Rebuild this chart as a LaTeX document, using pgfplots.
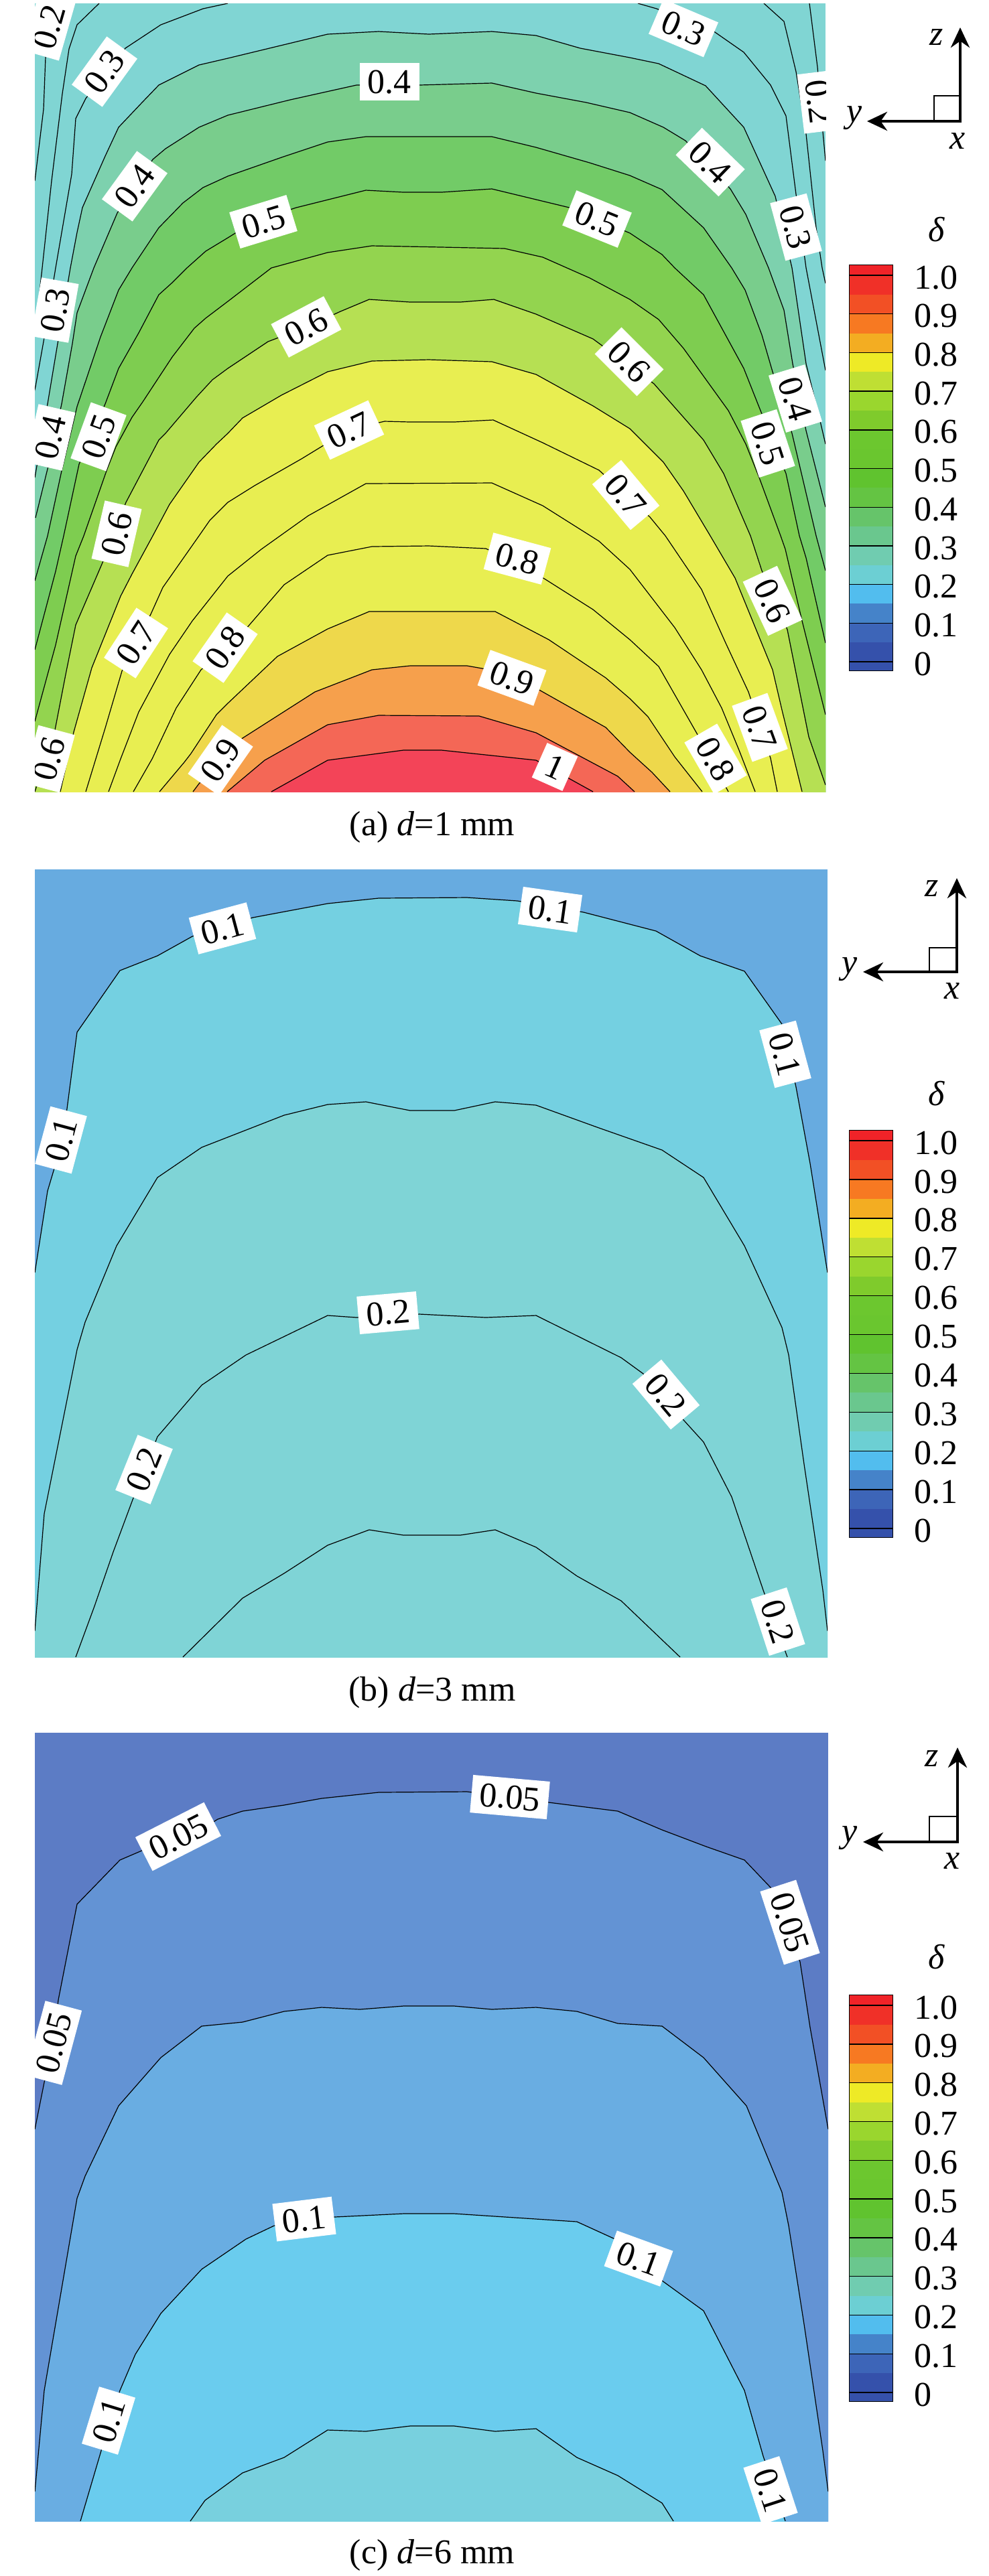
\documentclass[border=0pt]{standalone}
\usepackage{fontspec}
\setmainfont{Liberation Serif}
\usepackage{pgfplots}
\pgfplotsset{compat=1.18}
\usetikzlibrary{arrows.meta}
\definecolor{aa}{HTML}{80D5D3}\definecolor{ab}{HTML}{7DD1AE}\definecolor{ac}{HTML}{79CD8C}
\definecolor{ad}{HTML}{72CB67}\definecolor{ae}{HTML}{7ECD50}\definecolor{af}{HTML}{93D44F}
\definecolor{ag}{HTML}{B6E053}\definecolor{ah}{HTML}{E8EE51}\definecolor{ai}{HTML}{EED84B}
\definecolor{aj}{HTML}{F6A04C}\definecolor{ak}{HTML}{F46756}\definecolor{al}{HTML}{F34458}
\definecolor{ba}{HTML}{67ABE0}\definecolor{bb}{HTML}{74D0E1}\definecolor{bc}{HTML}{7FD4D6}
\definecolor{ca}{HTML}{5C7CC5}\definecolor{cb}{HTML}{6393D4}\definecolor{cc}{HTML}{69ADE2}
\definecolor{cd}{HTML}{6ACCEE}\definecolor{ce}{HTML}{78D0DE}
\newcommand\cl[1]{\addplot[black,line width=0.3pt] coordinates {#1};}
\newcommand\ctr[2]{\addplot[fill=#1,draw=none] coordinates {(0,6000) #2 (2000,6000)} -- cycle; \cl{#2}}
\newcommand\lab[4]{\node[fill=white,inner xsep=3pt,inner ysep=2.7pt,text height=8.7pt,text depth=0pt,rotate=#3,font=\fontsize{13}{14}\selectfont] at (axis cs:#1,#2) {#4};}
\pgfplotsset{panel/.style={hide axis,scale only axis,y dir=reverse},
 cbar/.style={scale only axis,width=16pt,xmin=0,xmax=1,ymin=-0.0225,ymax=1.026,
  axis line style={black,line width=0.6pt},xtick=\empty,
  ytick={0,0.1,0.2,0.3,0.4,0.5,0.6,0.7,0.8,0.9,1},
  yticklabels={0,0.1,0.2,0.3,0.4,0.5,0.6,0.7,0.8,0.9,1.0},
  yticklabel pos=right,major tick length=0pt,
  yticklabel style={font=\fontsize{13}{14}\selectfont,anchor=west,xshift=4.5pt,yshift=-0.8pt}}}
\newcommand\bnd[3]{\addplot[fill=#1,draw=none] coordinates {(0,#2)(1,#2)(1,#3)(0,#3)} -- cycle;}
\newcommand\bands{%
\definecolor{t}{HTML}{F02328}\bnd{t}{1.026}{1}
\definecolor{t1}{HTML}{F03028}\bnd{t1}{1}{0.95}
\definecolor{t2}{HTML}{F25025}\bnd{t2}{0.95}{0.9}
\definecolor{t3}{HTML}{F77922}\bnd{t3}{0.9}{0.85}
\definecolor{t4}{HTML}{F3AD22}\bnd{t4}{0.85}{0.8}
\definecolor{t5}{HTML}{EEEA26}\bnd{t5}{0.8}{0.75}
\definecolor{t6}{HTML}{BFDF33}\bnd{t6}{0.75}{0.7}
\definecolor{t7}{HTML}{9AD62E}\bnd{t7}{0.7}{0.65}
\definecolor{t8}{HTML}{7FCB2C}\bnd{t8}{0.65}{0.6}
\definecolor{t9}{HTML}{6CC72F}\bnd{t9}{0.6}{0.55}
\definecolor{u0}{HTML}{6AC62F}\bnd{u0}{0.55}{0.5}
\definecolor{u1}{HTML}{60C32F}\bnd{u1}{0.5}{0.45}
\definecolor{u2}{HTML}{64C443}\bnd{u2}{0.45}{0.4}
\definecolor{u3}{HTML}{66C46A}\bnd{u3}{0.4}{0.35}
\definecolor{u4}{HTML}{6AC78E}\bnd{u4}{0.35}{0.3}
\definecolor{u5}{HTML}{70CCB0}\bnd{u5}{0.3}{0.25}
\definecolor{u6}{HTML}{6CCFD3}\bnd{u6}{0.25}{0.2}
\definecolor{u7}{HTML}{52BDEE}\bnd{u7}{0.2}{0.15}
\definecolor{u8}{HTML}{4583C9}\bnd{u8}{0.15}{0.1}
\definecolor{u9}{HTML}{3D65B8}\bnd{u9}{0.1}{0.05}
\definecolor{v0}{HTML}{3551AB}\bnd{v0}{0.05}{-0.0225}
\addplot[black,line width=0.35pt] coordinates {(0,1)(1,1)};
\addplot[black,line width=0.35pt] coordinates {(0,0.9)(1,0.9)};
\addplot[black,line width=0.35pt] coordinates {(0,0.8)(1,0.8)};
\addplot[black,line width=0.35pt] coordinates {(0,0.7)(1,0.7)};
\addplot[black,line width=0.35pt] coordinates {(0,0.6)(1,0.6)};
\addplot[black,line width=0.35pt] coordinates {(0,0.5)(1,0.5)};
\addplot[black,line width=0.35pt] coordinates {(0,0.4)(1,0.4)};
\addplot[black,line width=0.35pt] coordinates {(0,0.3)(1,0.3)};
\addplot[black,line width=0.35pt] coordinates {(0,0.2)(1,0.2)};
\addplot[black,line width=0.35pt] coordinates {(0,0.1)(1,0.1)};
\addplot[black,line width=0.35pt] coordinates {(0,0)(1,0)};
}
\newcommand\triad[9]{%
 \begin{scope}[x=0.25pt,y=-0.25pt]
 \draw[black,line width=0.3pt] (#5,#6) rectangle (#1,#2);
 \draw[black,line width=1.2pt,-{Stealth[length=7.5pt,width=7pt]}] (#1+2.4,#2) -- (#4,#2);
 \draw[black,line width=1.2pt,-{Stealth[length=7.5pt,width=7pt]}] (#1,#2+2.4) -- (#1,#3);
 \node[font=\fontsize{13}{14}\selectfont\itshape] at (#7,#8) {z};
 \node[font=\fontsize{13}{14}\selectfont\itshape] at (#9) {x};
 \end{scope}}
\newcommand\capt[3]{\node[font=\fontsize{13}{15}\selectfont] at (#1*0.25pt,-#2*0.25pt) {#3};}
\newcommand\sym[3]{\node[font=\fontsize{13}{14}\selectfont\itshape] at (#1*0.25pt,-#2*0.25pt) {#3};}
\begin{document}
\begin{tikzpicture}
\path[use as bounding box] (0,0) rectangle (369pt,-961.5pt);
% ------------ panel a
\begin{axis}[panel,at={(52*0.25pt,-5*0.25pt)},anchor=north west,width=295pt,height=294.25pt,
 xmin=52,xmax=1232,ymin=5,ymax=1182]
\addplot[fill=aa,draw=none] coordinates {(52,5)(1232,5)(1232,1182)(52,1182)} -- cycle;
\cl{(75,5)(68,85)(65,163)(52,270)}
\cl{(148,5)(115,37)(103,73)(93,140)(77,270)(63,400)(52,500)}
\cl{(340,5)(303,13)(240,37)(187,72)(128,147)(113,177)(107,260)(83,400)(65,510)(53,577)(50,590)}
\cl{(952,5)(980,13)(1067,48)(1110,78)(1150,127)(1173,173)(1188,290)(1203,400)(1232,553)}
\cl{(1140,5)(1170,32)(1188,107)(1203,200)(1218,340)(1227,400)(1232,423)}
\cl{(1208,5)(1220,100)(1228,197)(1232,240)}
\ctr{ab}{(52,713)(72,597)(86,513)(105,400)(115,347)(123,310)(157,233)(177,190)(212,153)(237,127)(297,97)(340,87)(489,51)(565,47)(640,51)(734,47)(800,53)(866,72)(940,86)(983,95)(1053,128)(1110,190)(1157,293)(1182,400)(1203,543)(1225,633)(1232,663)}
\ctr{ac}{(53,773)(71,700)(92,603)(108,513)(115,467)(140,400)(175,318)(228,238)(247,222)(297,190)(340,172)(433,149)(532,127)(626,127)(734,124)(800,139)(875,153)(940,168)(990,190)(1023,210)(1090,282)(1113,320)(1147,400)(1170,463)(1183,543)(1203,643)(1232,757)}
\ctr{ad}{(52,867)(71,800)(92,703)(115,607)(150,503)(177,433)(197,400)(237,340)(273,303)(303,280)(340,263)(420,235)(489,212)(546,204)(734,204)(800,220)(880,243)(940,262)(988,283)(1050,340)(1092,400)(1112,433)(1137,500)(1153,555)(1182,647)(1218,800)(1232,852)}
\ctr{ae}{(52,970)(83,853)(95,800)(118,693)(157,603)(177,550)(207,497)(237,440)(257,422)(279,400)(307,375)(340,355)(380,330)(442,310)(546,284)(602,287)(659,287)(734,282)(850,310)(940,348)(988,380)(1007,400)(1050,440)(1110,550)(1135,613)(1173,707)(1193,800)(1203,833)(1232,960)}
\ctr{af}{(52,1077)(83,963)(113,830)(125,800)(160,700)(173,667)(197,623)(213,600)(257,533)(290,490)(307,475)(340,450)(405,400)(489,377)(555,367)(659,369)(753,371)(810,384)(880,415)(940,447)(983,477)(1020,520)(1087,613)(1113,663)(1133,713)(1165,800)(1172,820)(1197,927)(1232,1067)}
\ctr{ag}{(52,1182)(82,1090)(98,1007)(113,933)(153,840)(188,750)(237,657)(247,647)(293,593)(317,567)(340,550)(400,510)(458,488)(508,465)(551,447)(612,451)(687,451)(737,447)(800,469)(885,506)(976,573)(1050,657)(1080,707)(1120,800)(1137,852)(1175,940)(1207,1100)(1232,1172)}
\ctr{ah}{(90,1182)(110,1093)(137,997)(180,890)(197,857)(228,800)(253,753)(297,690)(323,663)(340,647)(362,624)(420,590)(489,555)(555,539)(640,537)(734,540)(800,559)(885,606)(940,640)(990,690)(1020,733)(1060,800)(1097,863)(1153,1000)(1167,1060)(1197,1182)}
\cl{(128,1182)(157,1087)(182,1002)(225,917)(243,877)(297,800)(313,777)(340,750)(380,725)(450,685)(522,641)(574,629)(612,630)(678,630)(736,627)(810,661)(894,702)(970,772)(993,800)(1047,880)(1083,960)(1117,1033)(1150,1132)(1160,1182)}
\cl{(162,1182)(180,1133)(207,1063)(253,977)(287,927)(340,860)(390,820)(460,770)(546,722)(734,721)(810,755)(894,808)(940,850)(1007,937)(1047,1000)(1077,1057)(1103,1120)(1127,1182)}
\cl{(199,1182)(227,1133)(263,1057)(300,1000)(367,939)(424,873)(489,829)(555,816)(640,815)(725,819)(772,840)(814,865)(885,910)(940,955)(983,995)(1040,1095)(1087,1182)}
\ctr{ai}{(238,1182)(275,1138)(285,1125)(323,1067)(340,1050)(414,980)(489,939)(551,913)(739,913)(819,955)(904,1012)(940,1043)(967,1070)(1007,1130)(1048,1182)}
\ctr{aj}{(288,1182)(297,1170)(362,1102)(470,1033)(555,1000)(612,994)(697,994)(760,1005)(810,1033)(904,1086)(940,1123)(973,1153)(1000,1182)}
\ctr{ak}{(339,1182)(395,1135)(489,1082)(565,1068)(715,1069)(800,1094)(922,1159)(947,1182)}
\ctr{al}{(405,1182)(489,1135)(602,1120)(659,1120)(800,1135)(885,1182)}
\lab{73}{40}{74}{0.2}\lab{156}{107}{54}{0.3}\lab{201}{278}{54}{0.4}\lab{82}{463}{80}{0.3}
\lab{75}{653}{77}{0.4}\lab{147}{652}{70}{0.5}\lab{174}{797}{77}{0.6}\lab{203}{960}{57}{0.7}
\lab{336}{967}{55}{0.8}\lab{73}{1133}{75}{0.6}\lab{329}{1135}{55}{0.9}\lab{581}{122}{0}{0.4}
\lab{1020}{42}{-23}{0.3}\lab{1223}{152}{-83}{0.2}\lab{1188}{339}{-75}{0.3}\lab{1060}{242}{-44}{0.4}
\lab{393}{331}{17}{0.5}\lab{891}{327}{-22}{0.5}\lab{457}{488}{28}{0.6}\lab{939}{540}{-45}{0.6}
\lab{521}{642}{25}{0.7}\lab{934}{739}{-50}{0.7}\lab{772}{834}{-15}{0.8}\lab{764}{1012}{-20}{0.9}
\lab{828}{1145}{-24}{1}\lab{1187}{595}{-73}{0.4}\lab{1146}{662}{-72}{0.5}\lab{1153}{897}{-65}{0.6}
\lab{1134}{1086}{-70}{0.7}\lab{1068}{1133}{-60}{0.8}
\end{axis}
\begin{axis}[cbar,at={(1268*0.25pt,-396*0.25pt)},anchor=north west,height=151.25pt]
\bands
\end{axis}
% ------------ panel b
\begin{axis}[panel,at={(52*0.25pt,-1298*0.25pt)},anchor=north west,width=295.75pt,height=294pt,
 xmin=52,xmax=1235,ymin=1298,ymax=2474]
\addplot[fill=ba,draw=none] coordinates {(52,1298)(1235,1298)(1235,2474)(52,2474)} -- cycle;
\ctr{bb}{(52,1900)(71,1778)(94,1701)(115,1541)(179,1449)(235,1427)(287,1398)(377,1370)(489,1349)(565,1341)(697,1340)(772,1345)(871,1362)(979,1390)(1045,1427)(1111,1450)(1167,1529)(1188,1623)(1209,1737)(1235,1900)}
\ctr{bc}{(52,2435)(66,2260)(115,2015)(127,1974)(174,1860)(235,1758)(301,1713)(424,1665)(489,1649)(546,1645)(612,1658)(678,1658)(739,1645)(800,1650)(894,1684)(988,1717)(1050,1758)(1111,1860)(1167,1982)(1177,2023)(1200,2186)(1228,2374)(1235,2435)}
\cl{(113,2474)(141,2398)(169,2317)(198,2239)(235,2145)(301,2068)(367,2023)(489,1964)(532,1967)(626,1962)(725,1967)(800,1964)(927,2027)(960,2051)(1021,2121)(1050,2153)(1092,2235)(1139,2374)(1175,2474)}
\cl{(273,2474)(362,2386)(424,2349)(489,2307)(551,2284)(602,2292)(687,2292)(739,2284)(800,2310)(861,2353)(927,2390)(1015,2474)}
\lab{332}{1386}{15}{0.1}\lab{821}{1358}{-8}{0.1}\lab{1172}{1574}{-75}{0.1}\lab{91}{1702}{75}{0.1}
\lab{579}{1960}{5}{0.2}\lab{994}{2082}{-50}{0.2}\lab{215}{2194}{68}{0.2}\lab{1161}{2421}{-72}{0.2}
\end{axis}
\begin{axis}[cbar,at={(1268*0.25pt,-1688*0.25pt)},anchor=north west,height=151.75pt]
\bands
\end{axis}
% ------------ panel c
\begin{axis}[panel,at={(52*0.25pt,-2587*0.25pt)},anchor=north west,width=296pt,height=294.25pt,
 xmin=52,xmax=1236,ymin=2587,ymax=3764]
\addplot[fill=ca,draw=none] coordinates {(52,2587)(1236,2587)(1236,3764)(52,3764)} -- cycle;
\ctr{cb}{(52,3179)(66,3109)(80,3048)(87,2986)(115,2843)(179,2777)(235,2753)(306,2728)(325,2716)(362,2704)(424,2695)(480,2685)(565,2676)(697,2675)(761,2683)(819,2691)(922,2704)(988,2732)(1054,2757)(1111,2777)(1150,2818)(1194,2929)(1209,3027)(1236,3179)}
\ctr{cc}{(52,3720)(66,3569)(115,3282)(127,3249)(177,3144)(240,3072)(301,3025)(362,3019)(424,3003)(480,2997)(537,3000)(602,2995)(678,2995)(734,3000)(800,2997)(861,3003)(922,3021)(988,3025)(1050,3072)(1114,3144)(1167,3273)(1177,3323)(1200,3470)(1228,3659)(1236,3720)}
\ctr{cd}{(120,3764)(151,3659)(179,3569)(202,3515)(240,3454)(301,3388)(367,3343)(409,3323)(499,3310)(602,3305)(678,3305)(861,3317)(918,3343)(988,3405)(1050,3450)(1111,3569)(1139,3667)(1172,3764)}
\ctr{ce}{(284,3764)(306,3733)(362,3692)(424,3669)(489,3628)(546,3630)(612,3622)(678,3622)(739,3630)(800,3626)(861,3669)(922,3696)(988,3737)(1005,3764)}
\lab{266}{2742}{27}{0.05}\lab{761}{2683}{-5}{0.05}\lab{1179}{2870}{-72}{0.05}\lab{80}{3050}{75}{0.05}
\lab{454}{3313}{7}{0.1}\lab{953}{3372}{-20}{0.1}\lab{162}{3614}{73}{0.1}\lab{1150}{3718}{-72}{0.1}
\end{axis}
\begin{axis}[cbar,at={(1268*0.25pt,-2979*0.25pt)},anchor=north west,height=151.5pt]
\bands
\end{axis}
% ------------ captions, triads
\capt{645}{1235}{(a) \textit{d}=1 mm}
\capt{645}{2527}{(b) \textit{d}=3 mm}
\capt{645}{3815}{(c) \textit{d}=6 mm}
\triad{1433}{181}{41}{1294}{1394}{143}{1398}{56}{1429,211}
\triad{1428}{1451}{1311}{1288}{1387}{1415}{1391}{1327}{1421,1480}
\triad{1429}{2750}{2609}{1288}{1387}{2712}{1391}{2626}{1421,2779}
\sym{1275}{176}{y}\sym{1268}{1447}{y}\sym{1268}{2744}{y}
\sym{1398}{343}{δ}\sym{1398}{1633}{δ}\sym{1398}{2922}{δ}
\end{tikzpicture}
\end{document}
